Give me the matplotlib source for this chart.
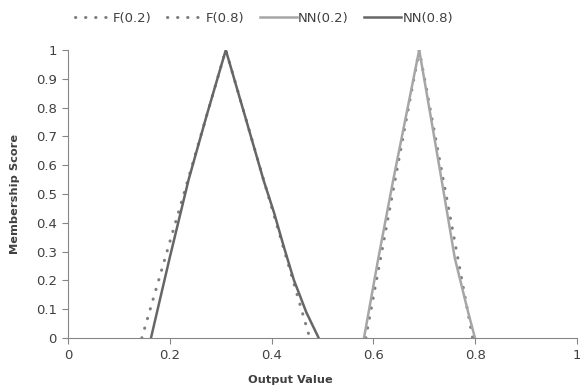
import matplotlib.pyplot as plt

plt.rcParams['font.family'] = ['DejaVu Sans']

# series
f02_x = [0.585, 0.69, 0.795]
f02_y = [0, 1, 0]
f08_x = [0.145, 0.31, 0.475]
f08_y = [0, 1, 0]
nn02_x = [0.5815, 0.6097, 0.639, 0.69, 0.712, 0.734, 0.760, 0.7865, 0.7996]
nn02_y = [0, 0.277, 0.549, 1, 0.775, 0.549, 0.277, 0.087, 0]
nn08_x = [0.163, 0.2, 0.237, 0.272, 0.31,
          0.350, 0.384, 0.405, 0.424, 0.444, 0.455, 0.468, 0.4925]
nn08_y = [0, 0.28, 0.55, 0.77, 1,
          0.757, 0.549, 0.434, 0.317, 0.2, 0.15, 0.09, 0]

x_ticks = [0, 0.2, 0.4, 0.6, 0.8, 1]
x_labels = ['0', '0.2', '0.4', '0.6', '0.8', '1']
y_ticks = [0, 0.1, 0.2, 0.3, 0.4, 0.5, 0.6, 0.7, 0.8, 0.9, 1]
y_labels = ['0', '0.1', '0.2', '0.3', '0.4', '0.5', '0.6', '0.7', '0.8', '0.9', '1']

txt = '#404040'
dot_style = (0, (0.1, 3.2))

fig = plt.figure(figsize=(5.8, 3.9), dpi=100)
ax = fig.add_axes([68 / 580, 52 / 390, 509 / 580, 288 / 390])

ax.plot(f02_x, f02_y, color='#7f7f7f', lw=2.2, linestyle=dot_style,
        dash_capstyle='round', label='F(0.2)')
ax.plot(f08_x, f08_y, color='#7f7f7f', lw=2.2, linestyle=dot_style,
        dash_capstyle='round', label='F(0.8)')
ax.plot(nn02_x, nn02_y, color='#a6a6a6', lw=1.8, label='NN(0.2)')
ax.plot(nn08_x, nn08_y, color='#666666', lw=1.8, label='NN(0.8)')

ax.set_xlim(0, 1)
ax.set_ylim(0, 1)
ax.set_xticks(x_ticks)
ax.set_xticklabels(x_labels)
ax.set_yticks(y_ticks)
ax.set_yticklabels(y_labels)
ax.tick_params(direction='out', length=4, width=0.8, color='#868686',
               labelsize=9.5, labelcolor=txt, pad=4)

for side in ['top', 'right']:
    ax.spines[side].set_visible(False)
for side in ['left', 'bottom']:
    ax.spines[side].set_color('#868686')
    ax.spines[side].set_linewidth(0.8)

ax.set_xlabel('Output Value', fontsize=8.2, fontweight='bold', color=txt)
ax.set_ylabel('Membership Score', fontsize=8.2, fontweight='bold', color=txt)
ax.xaxis.set_label_coords((290 - 68) / 509, -0.128)
ax.yaxis.set_label_coords(-0.094, 0.5)

fig.legend(loc='upper center', bbox_to_anchor=(0.455, 1.0), ncol=4, frameon=False,
           fontsize=9.5, labelcolor=txt, handlelength=2.8, handletextpad=0.08,
           columnspacing=1.2)

fig.savefig('out.png', dpi=100)
